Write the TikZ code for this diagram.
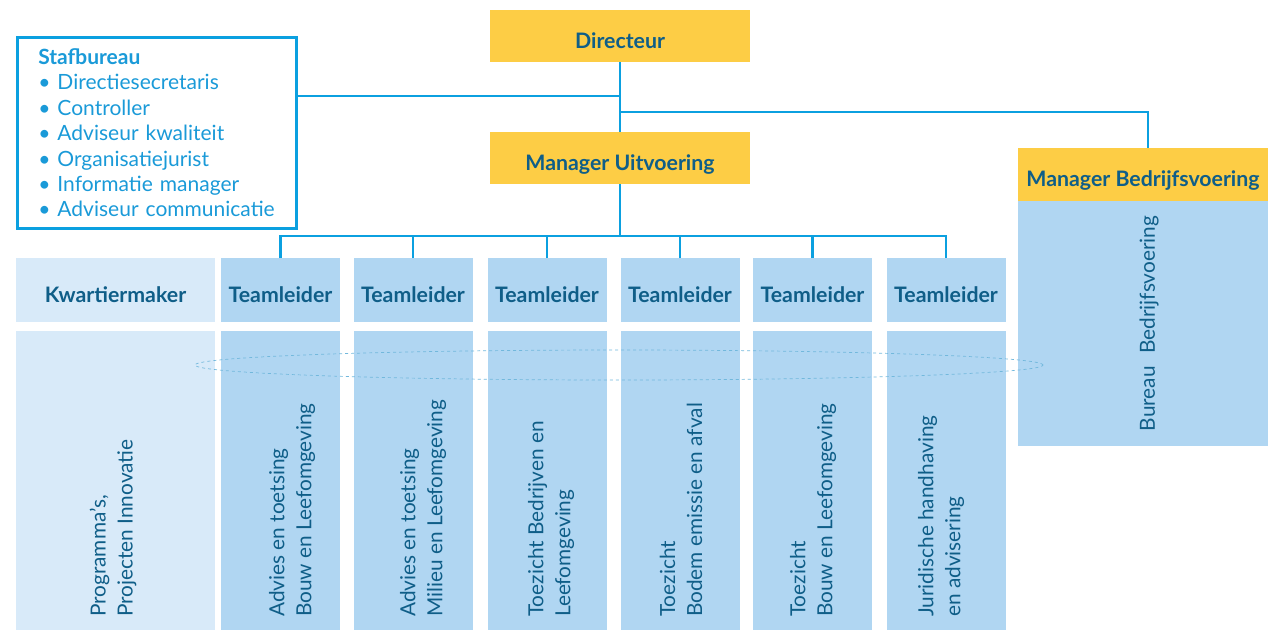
\documentclass[tikz,border=0pt]{standalone}
\usepackage{fontspec}
\setmainfont{Lato}
\usepackage{tikz}
\usetikzlibrary{shapes.geometric}
\definecolor{geel}{HTML}{FDCD45}
\definecolor{lijn}{HTML}{0BA0E0}
\definecolor{lblauw}{HTML}{B0D6F2}
\definecolor{llblauw}{HTML}{D8EAF9}
\definecolor{donker}{HTML}{0F5E88}
\definecolor{stafblauw}{HTML}{1A9AD8}
\definecolor{ovaal}{HTML}{72B8DC}

\begin{document}
\begin{tikzpicture}[x=1pt, y=-1pt,
		box/.style={inner sep=0pt, outer sep=0pt, text=donker, text height=24pt, text depth=0pt, font=\fontsize{21.3}{24}\selectfont\bfseries},
		mgr/.style={box, fill=geel, minimum width=260pt, minimum height=52pt},
		tl/.style={box, fill=lblauw, minimum width=119pt, minimum height=64pt},
		kolom/.style={box, fill=lblauw, minimum width=119pt, minimum height=299pt},
		vtekst/.style={rotate=90, anchor=west, align=left, inner sep=0pt, text=donker, font=\fontsize{20.8}{27}\selectfont},
		con/.style={draw=lijn, line width=2.8pt}]
		\useasboundingbox (0,0) rectangle (1268,630);
		\node[mgr] (dir) at (620,36) {Directeur};
		\node[mgr] (mu) at (620,158) {Manager Uitvoering};
		\node[box, fill=geel, minimum width=250pt, minimum height=53pt] (mb) at (1143,174.5) {Manager Bedrijfsvoering};
		\node[box, fill=lblauw, minimum width=250pt, minimum height=245pt] (bb) at (1143,323.5) {};
		\node[vtekst, anchor=center] (bbt) at ([xshift=6pt]bb.center) {Bureau\hspace{0.6em}Bedrijfsvoering};
		\node[draw=lijn, line width=2.6pt, anchor=north west, inner xsep=21pt, text width=237pt, minimum height=191pt,
			align=left, text=stafblauw, font=\fontsize{21}{25.4}\selectfont] (staf) at (16,36)
			{\textbf{Stafbureau}\\
			\textbullet\ Directiesecretaris\\
			\textbullet\ Controller\\
			\textbullet\ Adviseur kwaliteit\\
			\textbullet\ Organisatiejurist\\
			\textbullet\ Informatie manager\\
			\textbullet\ Adviseur communicatie};
		\node[tl, fill=llblauw, minimum width=199pt] (km) at (115.5,290) {Kwartiermaker};
		\node[kolom, fill=llblauw, minimum width=199pt] (kk) at (115.5,480.5) {};
		\node[vtekst] (kt) at (113,617) {Programma’s,\\Projecten Innovatie};
		\foreach[count=\i] \xc/\xt/\regels in {280.5/292/{Advies en toetsing\\Bouw en Leefomgeving},
				413/423/{Advies en toetsing\\Milieu en Leefomgeving},
				547/551/{Toezicht Bedrijven en\\Leefomgeving},
				680/681/{Toezicht\\Bodem emissie en afval},
				812.5/813/{Toezicht\\Bouw en Leefomgeving},
				946/941/{Juridische handhaving\\en advisering}} {
			\node[tl] (tl-\i) at (\xc,290) {Teamleider};
			\node[kolom] (k-\i) at (\xc,480.5) {};
			\node[vtekst] (t-\i) at (\xt,617) {\regels};
		}
		\node[ellipse, draw=ovaal, dashed, line width=0.7pt, minimum width=848pt, minimum height=30pt] (groep) at (619,365) {};
		\coordinate (j1) at (620,96);
		\coordinate (j2) at (620,112);
		\coordinate (bus) at (620,236);
		\draw[con] (dir) -- (mu);
		\draw[con] (staf.east |- j1) -- (j1);
		\draw[con] (j2) -| ([xshift=5pt]mb.north);
		\draw[con] (mu) -- (bus);
		\foreach \i in {1,...,6}
			\draw[con] (tl-\i.north) |- (bus);
	\end{tikzpicture}
\end{document}
